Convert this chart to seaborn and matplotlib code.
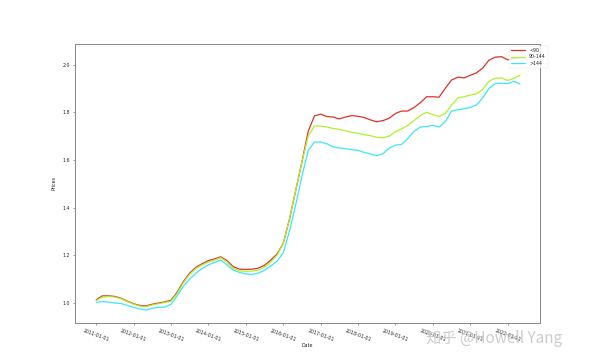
import numpy as np
import pandas as pd
import matplotlib
matplotlib.use("Agg")
import matplotlib.pyplot as plt
import matplotlib.dates as mdates
import seaborn as sns

groups = ["<90", "90-144", ">144"]
colors = ["#d93526", "#b0f030", "#3ee6f2"]

dates = pd.date_range("2011-01-01", periods=69, freq="2MS")

red = [1.013, 1.030, 1.030, 1.028, 1.020, 1.008, 0.997, 0.990, 0.988, 0.995,
       1.000, 1.005, 1.012, 1.045, 1.090, 1.125, 1.150, 1.165, 1.178, 1.185,
       1.194, 1.178, 1.152, 1.142, 1.141, 1.142, 1.146, 1.158, 1.180, 1.205,
       1.250, 1.350, 1.470, 1.590, 1.720, 1.785, 1.792, 1.782, 1.780, 1.772,
       1.780, 1.786, 1.783, 1.778, 1.768, 1.760, 1.765, 1.775, 1.795, 1.805,
       1.805, 1.820, 1.840, 1.865, 1.865, 1.863, 1.900, 1.935, 1.947, 1.944,
       1.955, 1.965, 1.985, 2.018, 2.031, 2.033, 2.020, 2.025, 2.030]

green = [1.010, 1.025, 1.027, 1.025, 1.018, 1.006, 0.995, 0.987, 0.985, 0.992,
         0.997, 1.002, 1.008, 1.040, 1.085, 1.120, 1.145, 1.160, 1.172, 1.180,
         1.190, 1.172, 1.145, 1.135, 1.133, 1.134, 1.138, 1.150, 1.172, 1.200,
         1.250, 1.350, 1.470, 1.590, 1.700, 1.743, 1.742, 1.738, 1.732, 1.728,
         1.722, 1.716, 1.712, 1.706, 1.702, 1.695, 1.693, 1.700, 1.718, 1.730,
         1.745, 1.765, 1.786, 1.800, 1.790, 1.782, 1.795, 1.830, 1.860, 1.865,
         1.872, 1.877, 1.895, 1.930, 1.943, 1.944, 1.933, 1.942, 1.955]

cyan = [1.003, 1.006, 1.004, 1.000, 0.998, 0.990, 0.982, 0.975, 0.971, 0.978,
        0.982, 0.983, 0.995, 1.030, 1.070, 1.100, 1.125, 1.145, 1.160, 1.170,
        1.180, 1.160, 1.138, 1.128, 1.122, 1.120, 1.125, 1.137, 1.155, 1.175,
        1.210, 1.300, 1.410, 1.530, 1.640, 1.675, 1.675, 1.668, 1.655, 1.650,
        1.647, 1.643, 1.640, 1.632, 1.625, 1.618, 1.626, 1.650, 1.662, 1.665,
        1.690, 1.720, 1.738, 1.740, 1.745, 1.738, 1.760, 1.805, 1.810, 1.815,
        1.820, 1.830, 1.860, 1.900, 1.920, 1.922, 1.920, 1.930, 1.918]

df = pd.concat([
    pd.DataFrame({"Date": dates, "Prices": vals, "group": g})
    for g, vals in zip(groups, [red, green, cyan])
], ignore_index=True)

sns.set_style("ticks")
plt.rcParams["font.family"] = ["DejaVu Sans", "Noto Sans CJK SC"]

fig = plt.figure(figsize=(6, 3.63), dpi=100)
ax = fig.add_axes([0.125, 0.11, 0.775, 0.77])

sns.lineplot(data=df, x="Date", y="Prices", hue="group", hue_order=groups,
             palette=dict(zip(groups, colors)), linewidth=0.9, ax=ax)

fs = 3.4
ax.set_xlabel("Date", fontsize=fs, labelpad=1)
ax.set_ylabel("Prices", fontsize=fs, labelpad=4)
ax.yaxis.set_major_locator(plt.MultipleLocator(0.2))
ax.xaxis.set_major_locator(mdates.YearLocator())
ax.xaxis.set_minor_locator(mdates.MonthLocator())
ax.xaxis.set_major_formatter(mdates.DateFormatter("%Y-%m-%d"))
ax.tick_params(axis="both", which="major", labelsize=fs, length=1.5,
               width=0.4, pad=2, color="#444")
ax.tick_params(axis="x", which="minor", length=0.8, width=0.3, color="#666")
for lab in ax.get_xticklabels():
    lab.set_rotation(-20)
    lab.set_ha("center")
for s in ax.spines.values():
    s.set_visible(True)
    s.set_linewidth(0.7)
    s.set_color("#888")

ax.set_ylim(0.916, 2.088)
ax.set_xlim(pd.Timestamp("2010-06-08"), pd.Timestamp("2022-11-12"))

leg = ax.legend(loc="upper right", bbox_to_anchor=(1.022, 1.0), fontsize=fs,
                frameon=True, handlelength=3, borderpad=0.4, labelspacing=0.3)
leg.get_frame().set_linewidth(0.3)
leg.get_frame().set_edgecolor("#dddddd")

fig.text(0.71, 0.055, "知乎 @Howell Yang", fontsize=11, color="#c8c8c8",
         family=["Noto Sans CJK SC", "DejaVu Sans"], alpha=0.9)

fig.savefig("out.png", dpi=100)
